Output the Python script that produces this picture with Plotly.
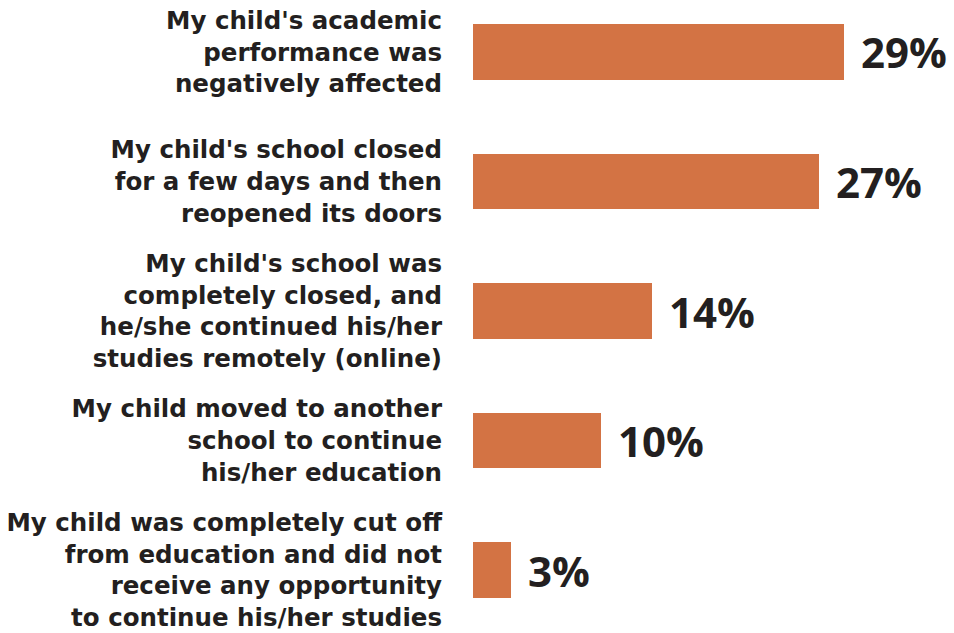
import plotly.graph_objects as go

categories = [
    "My child's academic<br>performance was<br>negatively affected",
    "My child's school closed<br>for a few days and then<br>reopened its doors",
    "My child's school was<br>completely closed, and<br>he/she continued his/her<br>studies remotely (online)",
    "My child moved to another<br>school to continue<br>his/her education",
    "My child was completely cut off<br>from education and did not<br>receive any opportunity<br>to continue his/her studies",
]
values = [29, 27, 14, 10, 3]
value_labels = ["29%", "27%", "14%", "10%", "3%"]

BAR_COLOR = "#D37344"
TEXT_COLOR = "#231F20"
LABEL_FONT = "DejaVu Sans"
VALUE_FONT = "Open Sans"

# top row first: position 4 at the top, 0 at the bottom
ypos = [len(values) - 1 - i for i in range(len(values))]

fig = go.Figure(
    go.Bar(
        x=values,
        y=ypos,
        orientation="h",
        width=0.425,
        marker=dict(color=BAR_COLOR, line=dict(width=0)),
        hoverinfo="skip",
    )
)

for v, y, lab in zip(values, ypos, value_labels):
    fig.add_annotation(
        x=v, y=y, text=lab, showarrow=False,
        xanchor="left", yanchor="middle", xshift=15,
        font=dict(family=VALUE_FONT, size=42, color=TEXT_COLOR, weight="bold"),
    )

fig.update_layout(
    width=954,
    height=633,
    margin=dict(l=473, r=0, t=0, b=0),
    paper_bgcolor="white",
    plot_bgcolor="white",
    showlegend=False,
    bargap=0,
    xaxis=dict(range=[0, 481 / 12.8], visible=False, fixedrange=True),
    yaxis=dict(
        range=[-0.4865, 4.4015],
        tickvals=ypos,
        ticktext=categories,
        showgrid=False,
        zeroline=False,
        showline=False,
        ticks="",
        ticklabelstandoff=30,
        tickfont=dict(family=LABEL_FONT, size=24.5, color=TEXT_COLOR, weight="bold"),
        automargin=False,
        fixedrange=True,
    ),
)

fig.write_html("out.html", config={"displayModeBar": False})
